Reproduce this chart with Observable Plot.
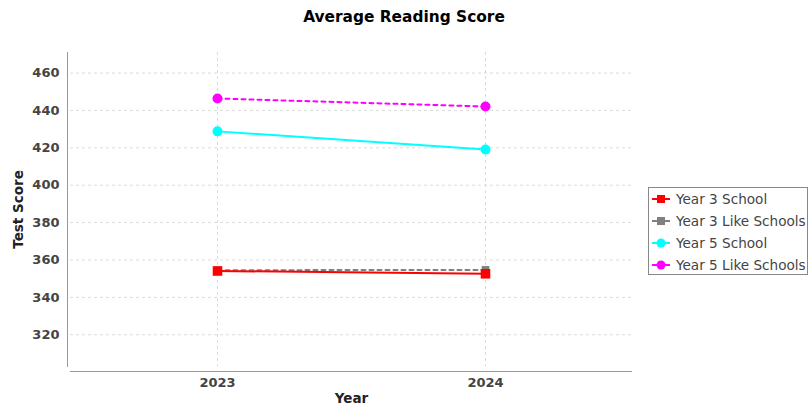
<!DOCTYPE html>
<html><head><meta charset="utf-8">
<script src="https://cdn.jsdelivr.net/npm/d3@7"></script>
<script src="https://cdn.jsdelivr.net/npm/@observablehq/plot@0.6"></script>
<style>
body{margin:0;background:#fff;font-family:"DejaVu Sans",sans-serif;}
#wrap{position:relative;width:808px;height:412px;}
#title{position:absolute;top:8px;left:0;width:808px;text-align:center;font:bold 15.4px "DejaVu Sans",sans-serif;color:#000;}
#legend{position:absolute;left:648px;top:187px;width:160px;height:88px;border:1px solid #888;box-sizing:border-box;background:#fff;}
.li{position:absolute;left:2px;height:22px;display:flex;align-items:center;font:13.6px "DejaVu Sans",sans-serif;color:#444;white-space:nowrap;}
.li svg{margin-right:5px;}
svg.plot text{font-family:"DejaVu Sans",sans-serif;}
</style></head>
<body><div id="wrap"><div id="title">Average Reading Score</div><div id="legend"></div></div>
<script>
const years = ["2023", "2024"];
const seriesNames = ["Year 3 School", "Year 3 Like Schools", "Year 5 School", "Year 5 Like Schools"];
const year3School = [354.1, 352.6];
const year3Like = [354.5, 354.7];
const year5School = [428.8, 419.1];
const year5Like = [446.4, 442.1];
const yTicks = [320, 340, 360, 380, 400, 420, 440, 460];
const colors = ["#ff0000", "#808080", "#00ffff", "#ff00ff"];
const dashes = [null, "4,4", null, "4,4"];
const symbols = ["square", "square", "circle", "circle"];
const radii = [5.4, 4.3, 5, 5];

const allValues = [year3School, year3Like, year5School, year5Like];
const data = [];
seriesNames.forEach((s, i) => years.forEach((y, j) => data.push({series: s, year: y, value: allValues[i][j]})));

const order = [1, 0, 3, 2];
const marks = [
  Plot.gridY(yTicks, {stroke: "#dcdcdc", strokeOpacity: 1, strokeDasharray: "3,3"}),
  Plot.gridX(years, {stroke: "#dcdcdc", strokeOpacity: 1, strokeDasharray: "3,3"}),
  Plot.axisY(yTicks, {tickSize: 0, tickPadding: 11, label: "Test Score", labelArrow: "none", labelAnchor: "center", labelOffset: 57}),
  Plot.axisX(years, {tickSize: 0, tickPadding: 11, label: "Year", labelArrow: "none", labelAnchor: "center", labelOffset: 36}),
  Plot.ruleY([303], {stroke: "#999", dy: 5}),
  Plot.frame({anchor: "left", stroke: "#999", dx: -3})
];
order.forEach(i => {
  const d = data.filter(r => r.series === seriesNames[i]);
  marks.push(Plot.line(d, {x: "year", y: "value", stroke: colors[i], strokeWidth: 2, strokeDasharray: dashes[i]}));
  marks.push(Plot.dot(d, {x: "year", y: "value", fill: colors[i], stroke: "none", symbol: symbols[i], r: radii[i]}));
});

const chart = Plot.plot({
  width: 808, height: 412,
  marginLeft: 70, marginRight: 176, marginTop: 52, marginBottom: 46,
  x: {type: "point", domain: years, padding: 0.548, label: null},
  y: {domain: [303, 471], label: null},
  style: {fontFamily: "DejaVu Sans", fontSize: "13px", fontWeight: "bold", color: "#444", background: "transparent"},
  marks
});
chart.classList.add("plot");
d3.select(chart).selectAll("g[aria-label='y-axis label'] text, g[aria-label='x-axis label'] text")
  .attr("fill", "#222").style("font-size", "13.5px");
document.getElementById("wrap").prepend(chart);
chart.style.position = "absolute"; chart.style.left = "0"; chart.style.top = "0";

const legend = d3.select("#legend");
seriesNames.forEach((s, i) => {
  const item = legend.append("div").attr("class", "li").style("top", (i * 22) + "px");
  const sv = item.append("svg").attr("width", 20).attr("height", 12);
  sv.append("line").attr("x1", 1).attr("x2", 19).attr("y1", 6).attr("y2", 6).attr("stroke", colors[i]).attr("stroke-width", 2);
  if (symbols[i] === "square") sv.append("rect").attr("x", 6).attr("y", 2).attr("width", 8).attr("height", 8).attr("fill", colors[i]);
  else sv.append("circle").attr("cx", 10).attr("cy", 6).attr("r", 4.5).attr("fill", colors[i]);
  item.append("span").text(s);
});
</script></body></html>
